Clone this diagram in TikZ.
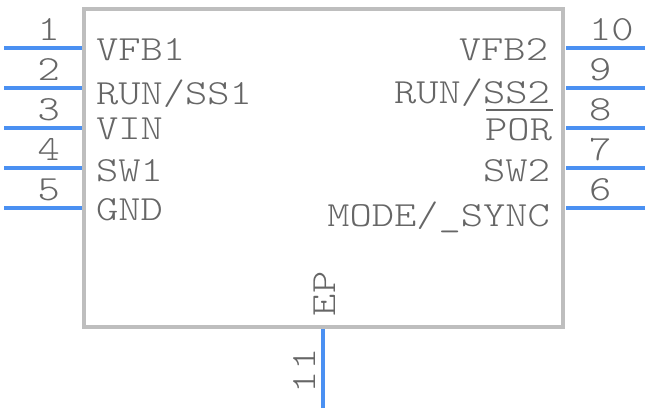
\documentclass[tikz,border=0pt]{standalone}
\usepackage{fontspec}
\newfontfamily\pinfont[FakeStretch=1.2]{Latin Modern Mono Light}
\definecolor{bodygray}{HTML}{BEBEBE}
\definecolor{pinblue}{HTML}{4A90F2}
\definecolor{textgray}{HTML}{666666}
\tikzset{
 chip/.style={draw=bodygray,line width=3pt,fill=white},
 pinline/.style={draw=pinblue,line width=3pt},
 lab/.style={inner sep=0pt,outer sep=0pt,text=textgray,font=\pinfont\fontsize{26.5pt}{26.5pt}\selectfont},
 barline/.style={draw=textgray,line width=1.5pt}
}
\begin{document}
\begin{tikzpicture}[x=0.75pt,y=-0.75pt]
\useasboundingbox (0,0) rectangle (648,412);
\node[chip,minimum width=359.25pt,minimum height=238.5pt,inner sep=0pt,outer sep=0pt,anchor=north west] (body) at (84,9) {};
% left pins
\foreach \n/\y in {1/48,2/88,3/128,4/168,5/208}{
 \coordinate (a\n) at (4,\y);
 \coordinate (b\n) at (82,\y);
 \draw[pinline] (a\n) -- (b\n);
 \node[lab,anchor=base east] (num\n) at (60,\y-8) {\n};
}
% right pins
\foreach \n/\y in {10/48,9/88,8/128,7/168,6/208}{
 \coordinate (a\n) at (645,\y);
 \coordinate (b\n) at (566,\y);
 \draw[pinline] (a\n) -- (b\n);
 \node[lab,anchor=base west] (num\n) at (589,\y-8) {\n};
}
% bottom pin
\coordinate (a11) at (323,408);
\coordinate (b11) at (323,329);
\draw[pinline] (a11) -- (b11);
\node[lab,anchor=base west,rotate=90] (num11) at (315,393) {11};
\node[lab,anchor=base west,rotate=90] (ep) at (335,316) {EP};
% left labels
\node[lab,anchor=base west] (l1) at (96,60) {VFB1};
\node[lab,anchor=base west] (l2) at (96,104) {RUN/SS1};
\node[lab,anchor=base west] (l3) at (96,139) {VIN};
\node[lab,anchor=base west] (l4) at (96,181) {SW1};
\node[lab,anchor=base west] (l5) at (96,220) {GND};
% right labels
\node[lab,anchor=base east] (r1) at (548,60) {VFB2};
\node[lab,anchor=base east] (r2) at (550,103) {RUN/SS2};
\node[lab,anchor=base east] (r3) at (552,140) {POR};
\node[lab,anchor=base east] (r4) at (550,181) {SW2};
\node[lab,anchor=base east] (r5) at (550,226) {MODE/\_SYNC};
\draw[barline] (486,109.5) -- (553,109.5);
\end{tikzpicture}
\end{document}
